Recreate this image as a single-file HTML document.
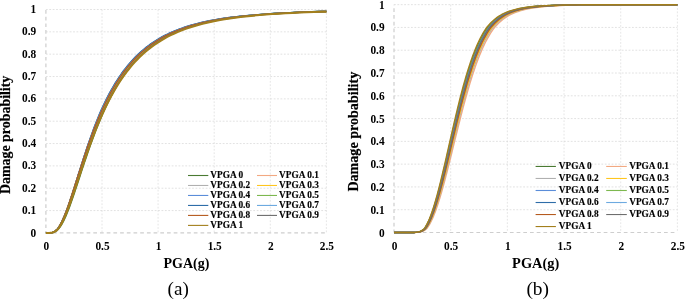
<!DOCTYPE html>
<html><head><meta charset="utf-8"><style>
html,body{margin:0;padding:0;background:#fff;}
body{width:685px;height:300px;overflow:hidden;}
svg{display:block;will-change:transform;font-family:"Liberation Serif",serif;}
.g{stroke:#d9d9d9;stroke-width:0.65;stroke-dasharray:1.8 1.6;}
.gh{stroke:#d2d2d2;}
.ax{stroke:#cecece;stroke-width:1.2;stroke-dasharray:3.7 3;}
.t{font-size:12px;font-weight:bold;fill:#000;}
.yl{font-size:13.6px;font-weight:bold;fill:#000;stroke:#000;stroke-width:0.2px;}
.xl{font-weight:bold;fill:#000;}
.cap{fill:#000;}
.lg{font-size:9.3px;font-weight:bold;fill:#000;stroke:#000;stroke-width:0.15px;}
</style></head><body>
<svg width="685" height="300" viewBox="0 0 685 300">
<rect width="685" height="300" fill="#fff"/>
<line x1="45.9" x2="326.4" y1="210.56" y2="210.56" class="g gh"/>
<line x1="45.9" x2="326.4" y1="188.22" y2="188.22" class="g gh"/>
<line x1="45.9" x2="326.4" y1="165.88" y2="165.88" class="g gh"/>
<line x1="45.9" x2="326.4" y1="143.54" y2="143.54" class="g gh"/>
<line x1="45.9" x2="326.4" y1="121.20" y2="121.20" class="g gh"/>
<line x1="45.9" x2="326.4" y1="98.86" y2="98.86" class="g gh"/>
<line x1="45.9" x2="326.4" y1="76.52" y2="76.52" class="g gh"/>
<line x1="45.9" x2="326.4" y1="54.18" y2="54.18" class="g gh"/>
<line x1="45.9" x2="326.4" y1="31.84" y2="31.84" class="g gh"/>
<line x1="45.9" x2="326.4" y1="9.50" y2="9.50" class="g gh"/>
<line x1="102.00" x2="102.00" y1="9.5" y2="232.9" class="g"/>
<line x1="158.10" x2="158.10" y1="9.5" y2="232.9" class="g"/>
<line x1="214.20" x2="214.20" y1="9.5" y2="232.9" class="g"/>
<line x1="270.30" x2="270.30" y1="9.5" y2="232.9" class="g"/>
<line x1="326.40" x2="326.40" y1="9.5" y2="232.9" class="g"/>
<line x1="45.9" x2="45.9" y1="9.5" y2="232.9" class="ax" stroke-dashoffset="6.2"/>
<line x1="45.9" x2="326.4" y1="232.9" y2="232.9" class="ax" stroke-dashoffset="6.2"/>
<polyline points="45.9,232.9 49.33,232.89 49.42,232.89 49.52,232.89 49.62,232.89 49.73,232.89 49.83,232.88 49.94,232.88 50.06,232.88 50.17,232.87 50.29,232.87 50.41,232.86 50.54,232.86 50.67,232.85 50.80,232.84 50.94,232.84 51.08,232.82 51.22,232.81 51.37,232.80 51.52,232.78 51.68,232.77 51.84,232.75 52.01,232.72 52.18,232.70 52.35,232.67 52.53,232.64 52.72,232.60 52.91,232.56 53.11,232.51 53.31,232.46 53.51,232.40 53.73,232.33 53.94,232.25 54.17,232.17 54.40,232.08 54.64,231.97 54.88,231.86 55.13,231.73 55.39,231.59 55.65,231.43 55.92,231.26 56.20,231.07 56.49,230.86 56.79,230.63 57.09,230.37 57.40,230.10 57.72,229.79 58.05,229.46 58.39,229.10 58.74,228.71 59.10,228.28 59.47,227.82 59.85,227.32 60.24,226.77 60.64,226.19 61.05,225.55 61.47,224.87 61.90,224.14 62.35,223.36 62.81,222.52 63.28,221.62 63.77,220.66 64.27,219.63 64.78,218.55 65.30,217.39 65.85,216.16 66.40,214.86 66.97,213.48 67.56,212.03 68.17,210.50 68.79,208.89 69.43,207.19 70.08,205.42 70.76,203.55 71.45,201.61 72.16,199.58 72.90,197.46 73.65,195.25 74.43,192.96 75.22,190.58 76.04,188.12 76.88,185.57 77.74,182.94 78.63,180.23 79.55,177.44 80.49,174.57 81.45,171.63 82.44,168.62 83.46,165.54 84.51,162.39 85.59,159.19 86.69,155.92 87.83,152.60 89.00,149.24 90.21,145.83 91.44,142.39 92.71,138.91 94.02,135.40 95.36,131.87 96.74,128.32 98.16,124.76 99.62,121.20 101.12,117.64 102.66,114.08 104.24,110.53 105.87,107.00 107.54,103.49 109.26,100.01 111.03,96.57 112.85,93.16 114.72,89.80 116.64,86.48 118.61,83.21 120.64,80.01 122.72,76.86 124.87,73.78 127.07,70.77 129.34,67.83 131.66,64.96 134.06,62.17 136.52,59.46 139.04,56.83 141.64,54.28 144.32,51.82 147.06,49.44 149.88,47.15 152.79,44.94 155.77,42.82 158.83,40.79 161.98,38.85 165.22,36.98 168.55,35.21 171.97,33.51 175.49,31.90 179.11,30.37 182.83,28.92 186.65,27.54 190.57,26.24 194.61,25.01 198.76,23.85 203.02,22.77 207.41,21.74 211.91,20.78 216.55,19.88 221.31,19.04 226.20,18.26 231.23,17.53 236.40,16.85 241.72,16.21 247.18,15.63 252.80,15.08 258.57,14.58 264.51,14.12 270.61,13.69 276.88,13.30 283.32,12.94 289.95,12.61 296.75,12.30 303.75,12.03 310.95,11.77 318.34,11.54 325.95,11.33 326.40,11.32" fill="none" stroke="#4A7A32" stroke-width="1.4" stroke-linejoin="round"/>
<polyline points="45.9,232.9 48.86,232.89 48.94,232.89 49.03,232.89 49.12,232.89 49.21,232.89 49.31,232.88 49.41,232.88 49.51,232.88 49.61,232.87 49.72,232.87 49.83,232.86 49.95,232.86 50.06,232.85 50.18,232.84 50.31,232.84 50.44,232.82 50.57,232.81 50.70,232.80 50.84,232.78 50.99,232.77 51.13,232.75 51.28,232.72 51.44,232.70 51.60,232.67 51.77,232.64 51.94,232.60 52.11,232.56 52.29,232.51 52.48,232.46 52.67,232.40 52.86,232.33 53.06,232.25 53.27,232.17 53.49,232.08 53.71,231.97 53.93,231.86 54.16,231.73 54.40,231.59 54.65,231.43 54.90,231.26 55.16,231.07 55.43,230.86 55.71,230.63 55.99,230.37 56.29,230.10 56.59,229.79 56.90,229.46 57.21,229.10 57.54,228.71 57.88,228.28 58.23,227.82 58.58,227.32 58.95,226.77 59.33,226.19 59.72,225.55 60.12,224.87 60.53,224.14 60.95,223.36 61.39,222.52 61.84,221.62 62.30,220.66 62.78,219.63 63.27,218.55 63.77,217.39 64.29,216.16 64.82,214.86 65.37,213.48 65.93,212.03 66.51,210.50 67.11,208.89 67.72,207.19 68.36,205.42 69.01,203.55 69.67,201.61 70.36,199.58 71.07,197.46 71.80,195.25 72.55,192.96 73.32,190.58 74.12,188.12 74.94,185.57 75.78,182.94 76.64,180.23 77.53,177.44 78.45,174.57 79.39,171.63 80.36,168.62 81.36,165.54 82.39,162.39 83.45,159.19 84.53,155.92 85.65,152.60 86.81,149.24 87.99,145.83 89.21,142.39 90.47,138.91 91.76,135.40 93.08,131.87 94.45,128.32 95.86,124.76 97.31,121.20 98.80,117.64 100.33,114.08 101.90,110.53 103.53,107.00 105.20,103.49 106.91,100.01 108.68,96.57 110.50,93.16 112.37,89.80 114.30,86.48 116.28,83.21 118.32,80.01 120.42,76.86 122.58,73.78 124.80,70.77 127.08,67.83 129.44,64.96 131.86,62.17 134.35,59.46 136.91,56.83 139.55,54.28 142.26,51.82 145.05,49.44 147.92,47.15 150.88,44.94 153.92,42.82 157.05,40.79 160.27,38.85 163.58,36.98 166.99,35.21 170.50,33.51 174.11,31.90 177.83,30.37 181.65,28.92 185.58,27.54 189.63,26.24 193.79,25.01 198.08,23.85 202.48,22.77 207.02,21.74 211.69,20.78 216.49,19.88 221.43,19.04 226.52,18.26 231.75,17.53 237.14,16.85 242.68,16.21 248.38,15.63 254.24,15.08 260.28,14.58 266.49,14.12 272.88,13.69 279.46,13.30 286.23,12.94 293.19,12.61 300.35,12.30 307.72,12.03 315.31,11.77 323.12,11.54 326.40,11.45" fill="none" stroke="#F2A982" stroke-width="1.4" stroke-linejoin="round"/>
<polyline points="45.9,232.9 48.87,232.89 48.96,232.89 49.05,232.89 49.14,232.89 49.23,232.89 49.33,232.88 49.43,232.88 49.53,232.88 49.64,232.87 49.75,232.87 49.86,232.86 49.97,232.86 50.09,232.85 50.21,232.84 50.34,232.84 50.46,232.82 50.60,232.81 50.73,232.80 50.87,232.78 51.02,232.77 51.16,232.75 51.32,232.72 51.47,232.70 51.64,232.67 51.80,232.64 51.97,232.60 52.15,232.56 52.33,232.51 52.52,232.46 52.71,232.40 52.90,232.33 53.11,232.25 53.32,232.17 53.53,232.08 53.75,231.97 53.98,231.86 54.21,231.73 54.45,231.59 54.70,231.43 54.96,231.26 55.22,231.07 55.49,230.86 55.77,230.63 56.05,230.37 56.35,230.10 56.65,229.79 56.96,229.46 57.28,229.10 57.61,228.71 57.95,228.28 58.30,227.82 58.66,227.32 59.03,226.77 59.41,226.19 59.80,225.55 60.20,224.87 60.62,224.14 61.05,223.36 61.48,222.52 61.94,221.62 62.40,220.66 62.88,219.63 63.37,218.55 63.88,217.39 64.40,216.16 64.93,214.86 65.48,213.48 66.05,212.03 66.64,210.50 67.24,208.89 67.85,207.19 68.49,205.42 69.14,203.55 69.82,201.61 70.51,199.58 71.22,197.46 71.96,195.25 72.71,192.96 73.49,190.58 74.29,188.12 75.11,185.57 75.96,182.94 76.83,180.23 77.72,177.44 78.65,174.57 79.60,171.63 80.57,168.62 81.58,165.54 82.61,162.39 83.67,159.19 84.77,155.92 85.89,152.60 87.05,149.24 88.24,145.83 89.47,142.39 90.73,138.91 92.03,135.40 93.37,131.87 94.74,128.32 96.16,124.76 97.62,121.20 99.11,117.64 100.66,114.08 102.24,110.53 103.87,107.00 105.55,103.49 107.28,100.01 109.06,96.57 110.89,93.16 112.77,89.80 114.71,86.48 116.70,83.21 118.76,80.01 120.87,76.86 123.04,73.78 125.27,70.77 127.57,67.83 129.94,64.96 132.37,62.17 134.88,59.46 137.46,56.83 140.11,54.28 142.84,51.82 145.65,49.44 148.54,47.15 151.51,44.94 154.57,42.82 157.72,40.79 160.96,38.85 164.29,36.98 167.72,35.21 171.25,33.51 174.88,31.90 178.62,30.37 182.46,28.92 186.42,27.54 190.49,26.24 194.68,25.01 198.99,23.85 203.43,22.77 207.99,21.74 212.69,20.78 217.52,19.88 222.49,19.04 227.61,18.26 232.87,17.53 238.29,16.85 243.86,16.21 249.60,15.63 255.50,15.08 261.57,14.58 267.82,14.12 274.25,13.69 280.86,13.30 287.67,12.94 294.68,12.61 301.88,12.30 309.30,12.03 316.93,11.77 324.78,11.54 326.40,11.50" fill="none" stroke="#B0B0B0" stroke-width="1.4" stroke-linejoin="round"/>
<polyline points="45.9,232.9 48.95,232.89 49.03,232.89 49.12,232.89 49.22,232.89 49.31,232.89 49.41,232.88 49.51,232.88 49.62,232.88 49.72,232.87 49.83,232.87 49.95,232.86 50.06,232.86 50.18,232.85 50.31,232.84 50.43,232.84 50.56,232.82 50.70,232.81 50.84,232.80 50.98,232.78 51.12,232.77 51.27,232.75 51.43,232.72 51.59,232.70 51.75,232.67 51.92,232.64 52.10,232.60 52.27,232.56 52.46,232.51 52.65,232.46 52.84,232.40 53.04,232.33 53.25,232.25 53.46,232.17 53.68,232.08 53.90,231.97 54.13,231.86 54.37,231.73 54.61,231.59 54.86,231.43 55.12,231.26 55.39,231.07 55.66,230.86 55.94,230.63 56.23,230.37 56.53,230.10 56.83,229.79 57.15,229.46 57.47,229.10 57.80,228.71 58.15,228.28 58.50,227.82 58.86,227.32 59.24,226.77 59.62,226.19 60.02,225.55 60.42,224.87 60.84,224.14 61.27,223.36 61.71,222.52 62.17,221.62 62.64,220.66 63.12,219.63 63.62,218.55 64.13,217.39 64.65,216.16 65.19,214.86 65.75,213.48 66.32,212.03 66.91,210.50 67.51,208.89 68.14,207.19 68.78,205.42 69.44,203.55 70.11,201.61 70.81,199.58 71.53,197.46 72.27,195.25 73.03,192.96 73.81,190.58 74.61,188.12 75.44,185.57 76.29,182.94 77.17,180.23 78.07,177.44 78.99,174.57 79.95,171.63 80.93,168.62 81.94,165.54 82.98,162.39 84.04,159.19 85.14,155.92 86.27,152.60 87.44,149.24 88.63,145.83 89.86,142.39 91.13,138.91 92.43,135.40 93.77,131.87 95.15,128.32 96.57,124.76 98.03,121.20 99.53,117.64 101.08,114.08 102.67,110.53 104.30,107.00 105.98,103.49 107.72,100.01 109.50,96.57 111.33,93.16 113.21,89.80 115.15,86.48 117.15,83.21 119.20,80.01 121.31,76.86 123.48,73.78 125.72,70.77 128.02,67.83 130.38,64.96 132.82,62.17 135.32,59.46 137.90,56.83 140.55,54.28 143.27,51.82 146.08,49.44 148.96,47.15 151.93,44.94 154.99,42.82 158.13,40.79 161.36,38.85 164.69,36.98 168.11,35.21 171.63,33.51 175.25,31.90 178.98,30.37 182.81,28.92 186.76,27.54 190.82,26.24 194.99,25.01 199.29,23.85 203.70,22.77 208.25,21.74 212.93,20.78 217.74,19.88 222.69,19.04 227.78,18.26 233.02,17.53 238.41,16.85 243.96,16.21 249.66,15.63 255.53,15.08 261.57,14.58 267.78,14.12 274.18,13.69 280.75,13.30 287.52,12.94 294.48,12.61 301.64,12.30 309.01,12.03 316.58,11.77 324.38,11.54 326.40,11.49" fill="none" stroke="#FFC61E" stroke-width="1.4" stroke-linejoin="round"/>
<polyline points="45.9,232.9 48.87,232.89 48.95,232.89 49.04,232.89 49.13,232.89 49.23,232.89 49.32,232.88 49.42,232.88 49.52,232.88 49.63,232.87 49.74,232.87 49.85,232.86 49.96,232.86 50.08,232.85 50.20,232.84 50.33,232.84 50.45,232.82 50.59,232.81 50.72,232.80 50.86,232.78 51.01,232.77 51.15,232.75 51.31,232.72 51.46,232.70 51.62,232.67 51.79,232.64 51.96,232.60 52.14,232.56 52.32,232.51 52.50,232.46 52.69,232.40 52.89,232.33 53.09,232.25 53.30,232.17 53.52,232.08 53.74,231.97 53.96,231.86 54.20,231.73 54.44,231.59 54.68,231.43 54.94,231.26 55.20,231.07 55.47,230.86 55.75,230.63 56.03,230.37 56.33,230.10 56.63,229.79 56.94,229.46 57.26,229.10 57.59,228.71 57.93,228.28 58.28,227.82 58.63,227.32 59.00,226.77 59.38,226.19 59.77,225.55 60.18,224.87 60.59,224.14 61.01,223.36 61.45,222.52 61.90,221.62 62.37,220.66 62.84,219.63 63.33,218.55 63.84,217.39 64.36,216.16 64.89,214.86 65.44,213.48 66.01,212.03 66.59,210.50 67.19,208.89 67.81,207.19 68.45,205.42 69.10,203.55 69.77,201.61 70.46,199.58 71.17,197.46 71.91,195.25 72.66,192.96 73.42,190.58 74.20,188.12 75.00,185.57 75.82,182.94 76.66,180.23 77.53,177.44 78.42,174.57 79.33,171.63 80.28,168.62 81.25,165.54 82.25,162.39 83.27,159.19 84.33,155.92 85.41,152.60 86.53,149.24 87.68,145.83 88.86,142.39 90.07,138.91 91.32,135.40 92.60,131.87 93.93,128.32 95.28,124.76 96.68,121.20 98.12,117.64 99.60,114.08 101.14,110.53 102.74,107.00 104.40,103.49 106.10,100.01 107.84,96.57 109.64,93.16 111.50,89.80 113.40,86.48 115.36,83.21 117.38,80.01 119.46,76.86 121.60,73.78 123.79,70.77 126.06,67.83 128.39,64.96 130.78,62.17 133.25,59.46 135.79,56.83 138.40,54.28 141.09,51.82 143.85,49.44 146.70,47.15 149.63,44.94 152.64,42.82 155.74,40.79 158.93,38.85 162.22,36.98 165.60,35.21 169.07,33.51 172.65,31.90 176.33,30.37 180.12,28.92 184.02,27.54 188.04,26.24 192.17,25.01 196.42,23.85 200.79,22.77 205.29,21.74 209.92,20.78 214.69,19.88 219.59,19.04 224.64,18.26 229.83,17.53 235.17,16.85 240.67,16.21 246.33,15.63 252.16,15.08 258.15,14.58 264.31,14.12 270.66,13.69 277.19,13.30 283.91,12.94 290.83,12.61 297.94,12.30 305.26,12.03 312.80,11.77 320.55,11.54 326.40,11.38" fill="none" stroke="#5B8DD9" stroke-width="1.4" stroke-linejoin="round"/>
<polyline points="45.9,232.9 48.85,232.89 48.94,232.89 49.02,232.89 49.11,232.89 49.21,232.89 49.30,232.88 49.40,232.88 49.50,232.88 49.61,232.87 49.71,232.87 49.82,232.86 49.94,232.86 50.06,232.85 50.18,232.84 50.30,232.84 50.43,232.82 50.56,232.81 50.69,232.80 50.83,232.78 50.98,232.77 51.12,232.75 51.27,232.72 51.43,232.70 51.59,232.67 51.75,232.64 51.92,232.60 52.10,232.56 52.28,232.51 52.46,232.46 52.65,232.40 52.85,232.33 53.05,232.25 53.26,232.17 53.47,232.08 53.69,231.97 53.92,231.86 54.15,231.73 54.39,231.59 54.63,231.43 54.89,231.26 55.15,231.07 55.41,230.86 55.69,230.63 55.97,230.37 56.26,230.10 56.56,229.79 56.87,229.46 57.19,229.10 57.52,228.71 57.86,228.28 58.20,227.82 58.56,227.32 58.93,226.77 59.30,226.19 59.69,225.55 60.09,224.87 60.50,224.14 60.92,223.36 61.36,222.52 61.81,221.62 62.27,220.66 62.74,219.63 63.23,218.55 63.73,217.39 64.25,216.16 64.78,214.86 65.33,213.48 65.89,212.03 66.47,210.50 67.07,208.89 67.68,207.19 68.31,205.42 68.96,203.55 69.63,201.61 70.31,199.58 71.02,197.46 71.75,195.25 72.50,192.96 73.27,190.58 74.06,188.12 74.88,185.57 75.72,182.94 76.58,180.23 77.47,177.44 78.39,174.57 79.33,171.63 80.30,168.62 81.29,165.54 82.32,162.39 83.37,159.19 84.46,155.92 85.57,152.60 86.72,149.24 87.91,145.83 89.12,142.39 90.38,138.91 91.66,135.40 92.99,131.87 94.35,128.32 95.76,124.76 97.20,121.20 98.69,117.64 100.22,114.08 101.79,110.53 103.41,107.00 105.08,103.49 106.79,100.01 108.56,96.57 110.37,93.16 112.24,89.80 114.16,86.48 116.14,83.21 118.17,80.01 120.27,76.86 122.42,73.78 124.64,70.77 126.92,67.83 129.27,64.96 131.68,62.17 134.17,59.46 136.73,56.83 139.36,54.28 142.07,51.82 144.85,49.44 147.72,47.15 150.67,44.94 153.70,42.82 156.83,40.79 160.04,38.85 163.35,36.98 166.75,35.21 170.25,33.51 173.85,31.90 177.56,30.37 181.38,28.92 185.30,27.54 189.34,26.24 193.50,25.01 197.77,23.85 202.17,22.77 206.70,21.74 211.36,20.78 216.15,19.88 221.08,19.04 226.16,18.26 231.38,17.53 236.76,16.85 242.28,16.21 247.97,15.63 253.83,15.08 259.85,14.58 266.05,14.12 272.43,13.69 278.99,13.30 285.75,12.94 292.69,12.61 299.84,12.30 307.20,12.03 314.77,11.77 322.56,11.54 326.40,11.44" fill="none" stroke="#7DB84F" stroke-width="1.4" stroke-linejoin="round"/>
<polyline points="45.9,232.9 48.87,232.89 48.95,232.89 49.04,232.89 49.13,232.89 49.23,232.89 49.32,232.88 49.42,232.88 49.52,232.88 49.63,232.87 49.74,232.87 49.85,232.86 49.96,232.86 50.08,232.85 50.20,232.84 50.33,232.84 50.45,232.82 50.59,232.81 50.72,232.80 50.86,232.78 51.01,232.77 51.15,232.75 51.31,232.72 51.46,232.70 51.62,232.67 51.79,232.64 51.96,232.60 52.14,232.56 52.32,232.51 52.50,232.46 52.69,232.40 52.89,232.33 53.09,232.25 53.30,232.17 53.52,232.08 53.74,231.97 53.96,231.86 54.20,231.73 54.44,231.59 54.68,231.43 54.94,231.26 55.20,231.07 55.47,230.86 55.75,230.63 56.03,230.37 56.33,230.10 56.63,229.79 56.94,229.46 57.26,229.10 57.59,228.71 57.93,228.28 58.28,227.82 58.63,227.32 59.00,226.77 59.38,226.19 59.77,225.55 60.18,224.87 60.59,224.14 61.01,223.36 61.45,222.52 61.90,221.62 62.37,220.66 62.84,219.63 63.33,218.55 63.84,217.39 64.36,216.16 64.89,214.86 65.44,213.48 66.01,212.03 66.59,210.50 67.19,208.89 67.81,207.19 68.45,205.42 69.10,203.55 69.77,201.61 70.46,199.58 71.17,197.46 71.91,195.25 72.66,192.96 73.42,190.58 74.19,188.12 74.99,185.57 75.80,182.94 76.64,180.23 77.50,177.44 78.39,174.57 79.30,171.63 80.24,168.62 81.21,165.54 82.20,162.39 83.22,159.19 84.27,155.92 85.35,152.60 86.46,149.24 87.60,145.83 88.77,142.39 89.98,138.91 91.22,135.40 92.50,131.87 93.81,128.32 95.16,124.76 96.55,121.20 97.97,117.64 99.44,114.08 100.97,110.53 102.57,107.00 104.22,103.49 105.91,100.01 107.66,96.57 109.45,93.16 111.30,89.80 113.20,86.48 115.15,83.21 117.17,80.01 119.24,76.86 121.37,73.78 123.56,70.77 125.82,67.83 128.14,64.96 130.53,62.17 132.99,59.46 135.52,56.83 138.12,54.28 140.80,51.82 143.56,49.44 146.40,47.15 149.32,44.94 152.32,42.82 155.41,40.79 158.59,38.85 161.87,36.98 165.24,35.21 168.70,33.51 172.27,31.90 175.94,30.37 179.72,28.92 183.61,27.54 187.61,26.24 191.73,25.01 195.97,23.85 200.33,22.77 204.81,21.74 209.43,20.78 214.18,19.88 219.07,19.04 224.10,18.26 229.28,17.53 234.61,16.85 240.09,16.21 245.73,15.63 251.54,15.08 257.51,14.58 263.66,14.12 269.99,13.69 276.50,13.30 283.20,12.94 290.09,12.61 297.19,12.30 304.49,12.03 312.00,11.77 319.73,11.54 326.40,11.36" fill="none" stroke="#2E6DA8" stroke-width="1.4" stroke-linejoin="round"/>
<polyline points="45.9,232.9 48.87,232.89 48.95,232.89 49.04,232.89 49.13,232.89 49.23,232.89 49.32,232.88 49.42,232.88 49.52,232.88 49.63,232.87 49.74,232.87 49.85,232.86 49.96,232.86 50.08,232.85 50.20,232.84 50.33,232.84 50.45,232.82 50.59,232.81 50.72,232.80 50.86,232.78 51.01,232.77 51.15,232.75 51.31,232.72 51.46,232.70 51.62,232.67 51.79,232.64 51.96,232.60 52.14,232.56 52.32,232.51 52.50,232.46 52.69,232.40 52.89,232.33 53.09,232.25 53.30,232.17 53.52,232.08 53.74,231.97 53.96,231.86 54.20,231.73 54.44,231.59 54.68,231.43 54.94,231.26 55.20,231.07 55.47,230.86 55.75,230.63 56.03,230.37 56.33,230.10 56.63,229.79 56.94,229.46 57.26,229.10 57.59,228.71 57.93,228.28 58.28,227.82 58.63,227.32 59.00,226.77 59.38,226.19 59.77,225.55 60.18,224.87 60.59,224.14 61.01,223.36 61.45,222.52 61.90,221.62 62.37,220.66 62.84,219.63 63.33,218.55 63.84,217.39 64.36,216.16 64.89,214.86 65.44,213.48 66.01,212.03 66.59,210.50 67.19,208.89 67.81,207.19 68.45,205.42 69.10,203.55 69.77,201.61 70.46,199.58 71.17,197.46 71.91,195.25 72.66,192.96 73.43,190.58 74.21,188.12 75.02,185.57 75.85,182.94 76.70,180.23 77.58,177.44 78.49,174.57 79.42,171.63 80.37,168.62 81.36,165.54 82.37,162.39 83.41,159.19 84.48,155.92 85.58,152.60 86.72,149.24 87.88,145.83 89.08,142.39 90.32,138.91 91.59,135.40 92.90,131.87 94.24,128.32 95.63,124.76 97.05,121.20 98.51,117.64 100.02,114.08 101.58,110.53 103.20,107.00 104.87,103.49 106.58,100.01 108.34,96.57 110.16,93.16 112.02,89.80 113.94,86.48 115.92,83.21 117.96,80.01 120.05,76.86 122.20,73.78 124.42,70.77 126.70,67.83 129.05,64.96 131.46,62.17 133.95,59.46 136.51,56.83 139.14,54.28 141.85,51.82 144.64,49.44 147.51,47.15 150.46,44.94 153.50,42.82 156.62,40.79 159.84,38.85 163.15,36.98 166.56,35.21 170.06,33.51 173.67,31.90 177.38,30.37 181.20,28.92 185.13,27.54 189.18,26.24 193.34,25.01 197.63,23.85 202.03,22.77 206.57,21.74 211.24,20.78 216.04,19.88 220.99,19.04 226.07,18.26 231.31,17.53 236.69,16.85 242.24,16.21 247.94,15.63 253.81,15.08 259.85,14.58 266.07,14.12 272.47,13.69 279.05,13.30 285.82,12.94 292.79,12.61 299.97,12.30 307.35,12.03 314.94,11.77 322.76,11.54 326.40,11.44" fill="none" stroke="#6DAAE0" stroke-width="1.4" stroke-linejoin="round"/>
<polyline points="45.9,232.9 48.85,232.89 48.94,232.89 49.02,232.89 49.11,232.89 49.21,232.89 49.30,232.88 49.40,232.88 49.50,232.88 49.61,232.87 49.71,232.87 49.82,232.86 49.94,232.86 50.06,232.85 50.18,232.84 50.30,232.84 50.43,232.82 50.56,232.81 50.69,232.80 50.83,232.78 50.98,232.77 51.12,232.75 51.27,232.72 51.43,232.70 51.59,232.67 51.75,232.64 51.92,232.60 52.10,232.56 52.28,232.51 52.46,232.46 52.65,232.40 52.85,232.33 53.05,232.25 53.26,232.17 53.47,232.08 53.69,231.97 53.92,231.86 54.15,231.73 54.39,231.59 54.63,231.43 54.89,231.26 55.15,231.07 55.41,230.86 55.69,230.63 55.97,230.37 56.26,230.10 56.56,229.79 56.87,229.46 57.19,229.10 57.52,228.71 57.86,228.28 58.20,227.82 58.56,227.32 58.93,226.77 59.30,226.19 59.69,225.55 60.09,224.87 60.50,224.14 60.92,223.36 61.36,222.52 61.81,221.62 62.27,220.66 62.74,219.63 63.23,218.55 63.73,217.39 64.25,216.16 64.78,214.86 65.33,213.48 65.89,212.03 66.47,210.50 67.07,208.89 67.68,207.19 68.31,205.42 68.96,203.55 69.63,201.61 70.31,199.58 71.02,197.46 71.75,195.25 72.50,192.96 73.27,190.58 74.06,188.12 74.88,185.57 75.72,182.94 76.58,180.23 77.47,177.44 78.39,174.57 79.33,171.63 80.30,168.62 81.29,165.54 82.32,162.39 83.37,159.19 84.46,155.92 85.57,152.60 86.72,149.24 87.91,145.83 89.12,142.39 90.38,138.91 91.66,135.40 92.99,131.87 94.35,128.32 95.76,124.76 97.20,121.20 98.69,117.64 100.22,114.08 101.79,110.53 103.41,107.00 105.08,103.49 106.79,100.01 108.56,96.57 110.37,93.16 112.24,89.80 114.16,86.48 116.14,83.21 118.17,80.01 120.27,76.86 122.42,73.78 124.64,70.77 126.92,67.83 129.27,64.96 131.68,62.17 134.17,59.46 136.73,56.83 139.36,54.28 142.07,51.82 144.85,49.44 147.72,47.15 150.67,44.94 153.70,42.82 156.83,40.79 160.04,38.85 163.35,36.98 166.75,35.21 170.25,33.51 173.85,31.90 177.56,30.37 181.38,28.92 185.30,27.54 189.34,26.24 193.50,25.01 197.77,23.85 202.17,22.77 206.70,21.74 211.36,20.78 216.15,19.88 221.08,19.04 226.16,18.26 231.38,17.53 236.76,16.85 242.28,16.21 247.97,15.63 253.83,15.08 259.85,14.58 266.05,14.12 272.43,13.69 278.99,13.30 285.75,12.94 292.69,12.61 299.84,12.30 307.20,12.03 314.77,11.77 322.56,11.54 326.40,11.44" fill="none" stroke="#B55A1E" stroke-width="1.4" stroke-linejoin="round"/>
<polyline points="45.9,232.9 49.01,232.89 49.10,232.89 49.19,232.89 49.29,232.89 49.39,232.89 49.49,232.88 49.59,232.88 49.70,232.88 49.81,232.87 49.92,232.87 50.03,232.86 50.15,232.86 50.27,232.85 50.40,232.84 50.53,232.84 50.66,232.82 50.80,232.81 50.94,232.80 51.08,232.78 51.23,232.77 51.39,232.75 51.54,232.72 51.71,232.70 51.87,232.67 52.04,232.64 52.22,232.60 52.40,232.56 52.59,232.51 52.78,232.46 52.98,232.40 53.18,232.33 53.39,232.25 53.61,232.17 53.83,232.08 54.06,231.97 54.29,231.86 54.53,231.73 54.78,231.59 55.03,231.43 55.30,231.26 55.57,231.07 55.84,230.86 56.13,230.63 56.42,230.37 56.72,230.10 57.04,229.79 57.36,229.46 57.68,229.10 58.02,228.71 58.37,228.28 58.73,227.82 59.10,227.32 59.48,226.77 59.87,226.19 60.27,225.55 60.68,224.87 61.11,224.14 61.54,223.36 61.99,222.52 62.45,221.62 62.93,220.66 63.42,219.63 63.92,218.55 64.44,217.39 64.97,216.16 65.52,214.86 66.08,213.48 66.66,212.03 67.26,210.50 67.87,208.89 68.50,207.19 69.15,205.42 69.82,203.55 70.51,201.61 71.22,199.58 71.94,197.46 72.69,195.25 73.46,192.96 74.25,190.58 75.07,188.12 75.90,185.57 76.77,182.94 77.65,180.23 78.57,177.44 79.50,174.57 80.47,171.63 81.46,168.62 82.48,165.54 83.53,162.39 84.62,159.19 85.73,155.92 86.87,152.60 88.05,149.24 89.26,145.83 90.50,142.39 91.79,138.91 93.10,135.40 94.46,131.87 95.85,128.32 97.29,124.76 98.77,121.20 100.28,117.64 101.85,114.08 103.45,110.53 105.11,107.00 106.81,103.49 108.56,100.01 110.36,96.57 112.21,93.16 114.11,89.80 116.07,86.48 118.09,83.21 120.16,80.01 122.29,76.86 124.49,73.78 126.75,70.77 129.07,67.83 131.46,64.96 133.92,62.17 136.44,59.46 139.04,56.83 141.72,54.28 144.47,51.82 147.30,49.44 150.22,47.15 153.21,44.94 156.30,42.82 159.47,40.79 162.73,38.85 166.09,36.98 169.54,35.21 173.09,33.51 176.74,31.90 180.50,30.37 184.37,28.92 188.34,27.54 192.44,26.24 196.65,25.01 200.98,23.85 205.43,22.77 210.01,21.74 214.73,20.78 219.58,19.88 224.57,19.04 229.70,18.26 234.98,17.53 240.41,16.85 246.00,16.21 251.74,15.63 257.66,15.08 263.74,14.58 270.00,14.12 276.43,13.69 283.06,13.30 289.87,12.94 296.88,12.61 304.08,12.30 311.50,12.03 319.13,11.77 326.40,11.56" fill="none" stroke="#6E6E6E" stroke-width="1.4" stroke-linejoin="round"/>
<polyline points="45.9,232.9 49.04,232.89 49.14,232.89 49.23,232.89 49.32,232.89 49.42,232.89 49.52,232.88 49.63,232.88 49.73,232.88 49.84,232.87 49.96,232.87 50.07,232.86 50.19,232.86 50.32,232.85 50.44,232.84 50.58,232.84 50.71,232.82 50.85,232.81 50.99,232.80 51.14,232.78 51.29,232.77 51.44,232.75 51.60,232.72 51.76,232.70 51.93,232.67 52.11,232.64 52.28,232.60 52.47,232.56 52.66,232.51 52.85,232.46 53.05,232.40 53.25,232.33 53.47,232.25 53.68,232.17 53.91,232.08 54.14,231.97 54.37,231.86 54.62,231.73 54.87,231.59 55.12,231.43 55.39,231.26 55.66,231.07 55.94,230.86 56.23,230.63 56.53,230.37 56.83,230.10 57.15,229.79 57.47,229.46 57.80,229.10 58.14,228.71 58.50,228.28 58.86,227.82 59.23,227.32 59.61,226.77 60.01,226.19 60.41,225.55 60.83,224.87 61.26,224.14 61.70,223.36 62.15,222.52 62.62,221.62 63.10,220.66 63.59,219.63 64.10,218.55 64.63,217.39 65.16,216.16 65.72,214.86 66.29,213.48 66.87,212.03 67.47,210.50 68.09,208.89 68.73,207.19 69.39,205.42 70.06,203.55 70.76,201.61 71.47,199.58 72.20,197.46 72.96,195.25 73.74,192.96 74.54,190.58 75.36,188.12 76.21,185.57 77.08,182.94 77.97,180.23 78.89,177.44 79.84,174.57 80.82,171.63 81.82,168.62 82.85,165.54 83.91,162.39 85.00,159.19 86.13,155.92 87.28,152.60 88.47,149.24 89.69,145.83 90.95,142.39 92.25,138.91 93.58,135.40 94.95,131.87 96.36,128.32 97.81,124.76 99.30,121.20 100.83,117.64 102.41,114.08 104.03,110.53 105.70,107.00 107.42,103.49 109.19,100.01 111.00,96.57 112.87,93.16 114.80,89.80 116.78,86.48 118.81,83.21 120.91,80.01 123.06,76.86 125.28,73.78 127.56,70.77 129.90,67.83 132.32,64.96 134.80,62.17 137.35,59.46 139.98,56.83 142.68,54.28 145.46,51.82 148.32,49.44 151.27,47.15 154.29,44.94 157.41,42.82 160.61,40.79 163.90,38.85 167.29,36.98 170.78,35.21 174.37,33.51 178.06,31.90 181.85,30.37 185.76,28.92 189.78,27.54 193.91,26.24 198.16,25.01 202.53,23.85 207.03,22.77 211.66,21.74 216.42,20.78 221.32,19.88 226.36,19.04 231.54,18.26 236.88,17.53 242.36,16.85 248.01,16.21 253.81,15.63 259.78,15.08 265.93,14.58 272.25,14.12 278.75,13.69 285.44,13.30 292.32,12.94 299.40,12.61 306.68,12.30 314.17,12.03 321.88,11.77 326.40,11.64" fill="none" stroke="#A37F1C" stroke-width="2.0" stroke-linejoin="round"/>
<text transform="translate(36.20,236.50) scale(0.945,1)" class="t" text-anchor="end">0</text>
<text transform="translate(36.20,214.16) scale(0.945,1)" class="t" text-anchor="end">0.1</text>
<text transform="translate(36.20,191.82) scale(0.945,1)" class="t" text-anchor="end">0.2</text>
<text transform="translate(36.20,169.48) scale(0.945,1)" class="t" text-anchor="end">0.3</text>
<text transform="translate(36.20,147.14) scale(0.945,1)" class="t" text-anchor="end">0.4</text>
<text transform="translate(36.20,124.80) scale(0.945,1)" class="t" text-anchor="end">0.5</text>
<text transform="translate(36.20,102.46) scale(0.945,1)" class="t" text-anchor="end">0.6</text>
<text transform="translate(36.20,80.12) scale(0.945,1)" class="t" text-anchor="end">0.7</text>
<text transform="translate(36.20,57.78) scale(0.945,1)" class="t" text-anchor="end">0.8</text>
<text transform="translate(36.20,35.44) scale(0.945,1)" class="t" text-anchor="end">0.9</text>
<text transform="translate(36.20,13.10) scale(0.945,1)" class="t" text-anchor="end">1</text>
<text transform="translate(46.40,249.6) scale(0.945,1)" class="t" text-anchor="middle">0</text>
<text transform="translate(102.50,249.6) scale(0.945,1)" class="t" text-anchor="middle">0.5</text>
<text transform="translate(158.60,249.6) scale(0.945,1)" class="t" text-anchor="middle">1</text>
<text transform="translate(214.70,249.6) scale(0.945,1)" class="t" text-anchor="middle">1.5</text>
<text transform="translate(270.80,249.6) scale(0.945,1)" class="t" text-anchor="middle">2</text>
<text transform="translate(326.90,249.6) scale(0.945,1)" class="t" text-anchor="middle">2.5</text>
<text transform="translate(10.3,194.0) rotate(-90)" class="yl" textLength="118.3" lengthAdjust="spacingAndGlyphs">Damage probability</text>
<text x="186.4" y="268.2" class="xl" style="font-size:14px" text-anchor="middle">PGA(g)</text>
<text x="178.2" y="295.1" class="cap" style="font-size:19.1px" text-anchor="middle">(a)</text>
<line x1="188.0" x2="208.3" y1="175.50" y2="175.50" stroke="#4A7A32" stroke-width="1.1"/>
<text x="210.3" y="178.40" class="lg">VPGA 0</text>
<line x1="257" x2="277.0" y1="175.50" y2="175.50" stroke="#F2A982" stroke-width="1.1"/>
<text x="279.1" y="178.40" class="lg">VPGA 0.1</text>
<line x1="188.0" x2="208.3" y1="185.48" y2="185.48" stroke="#B0B0B0" stroke-width="1.1"/>
<text x="210.3" y="188.38" class="lg">VPGA 0.2</text>
<line x1="257" x2="277.0" y1="185.48" y2="185.48" stroke="#FFC61E" stroke-width="1.1"/>
<text x="279.1" y="188.38" class="lg">VPGA 0.3</text>
<line x1="188.0" x2="208.3" y1="195.46" y2="195.46" stroke="#5B8DD9" stroke-width="1.1"/>
<text x="210.3" y="198.36" class="lg">VPGA 0.4</text>
<line x1="257" x2="277.0" y1="195.46" y2="195.46" stroke="#7DB84F" stroke-width="1.1"/>
<text x="279.1" y="198.36" class="lg">VPGA 0.5</text>
<line x1="188.0" x2="208.3" y1="205.44" y2="205.44" stroke="#2E6DA8" stroke-width="1.1"/>
<text x="210.3" y="208.34" class="lg">VPGA 0.6</text>
<line x1="257" x2="277.0" y1="205.44" y2="205.44" stroke="#6DAAE0" stroke-width="1.1"/>
<text x="279.1" y="208.34" class="lg">VPGA 0.7</text>
<line x1="188.0" x2="208.3" y1="215.42" y2="215.42" stroke="#B55A1E" stroke-width="1.1"/>
<text x="210.3" y="218.32" class="lg">VPGA 0.8</text>
<line x1="257" x2="277.0" y1="215.42" y2="215.42" stroke="#6E6E6E" stroke-width="1.1"/>
<text x="279.1" y="218.32" class="lg">VPGA 0.9</text>
<line x1="188.0" x2="208.3" y1="225.40" y2="225.40" stroke="#A37F1C" stroke-width="1.1"/>
<text x="210.3" y="228.30" class="lg">VPGA 1</text>
<line x1="394.0" x2="677.4" y1="209.72" y2="209.72" class="g gh"/>
<line x1="394.0" x2="677.4" y1="186.93" y2="186.93" class="g gh"/>
<line x1="394.0" x2="677.4" y1="164.15" y2="164.15" class="g gh"/>
<line x1="394.0" x2="677.4" y1="141.36" y2="141.36" class="g gh"/>
<line x1="394.0" x2="677.4" y1="118.58" y2="118.58" class="g gh"/>
<line x1="394.0" x2="677.4" y1="95.79" y2="95.79" class="g gh"/>
<line x1="394.0" x2="677.4" y1="73.00" y2="73.00" class="g gh"/>
<line x1="394.0" x2="677.4" y1="50.22" y2="50.22" class="g gh"/>
<line x1="394.0" x2="677.4" y1="27.44" y2="27.44" class="g gh"/>
<line x1="394.0" x2="677.4" y1="4.65" y2="4.65" class="g gh"/>
<line x1="450.68" x2="450.68" y1="4.65" y2="232.5" class="g"/>
<line x1="507.36" x2="507.36" y1="4.65" y2="232.5" class="g"/>
<line x1="564.04" x2="564.04" y1="4.65" y2="232.5" class="g"/>
<line x1="620.72" x2="620.72" y1="4.65" y2="232.5" class="g"/>
<line x1="677.40" x2="677.40" y1="4.65" y2="232.5" class="g"/>
<line x1="394.0" x2="394.0" y1="4.65" y2="232.5" class="ax" stroke-dashoffset="3.0"/>
<line x1="394.0" x2="677.4" y1="232.5" y2="232.5" class="ax" stroke-dashoffset="4.7"/>
<polyline points="394.0,232.5 410.96,232.49 411.17,232.49 411.38,232.49 411.60,232.49 411.82,232.49 412.04,232.48 412.27,232.48 412.49,232.48 412.72,232.47 412.96,232.47 413.19,232.46 413.43,232.46 413.68,232.45 413.92,232.44 414.17,232.43 414.42,232.42 414.68,232.41 414.94,232.40 415.20,232.38 415.46,232.36 415.73,232.34 416.00,232.32 416.27,232.29 416.55,232.26 416.83,232.23 417.12,232.19 417.41,232.15 417.70,232.10 417.99,232.05 418.29,231.99 418.60,231.92 418.90,231.84 419.21,231.76 419.53,231.66 419.85,231.56 420.17,231.44 420.50,231.31 420.83,231.16 421.16,231.00 421.50,230.83 421.84,230.63 422.19,230.42 422.54,230.18 422.90,229.92 423.26,229.64 423.63,229.33 424.00,228.99 424.37,228.63 424.71,228.22 425.02,227.79 425.35,227.32 425.68,226.80 426.03,226.25 426.39,225.65 426.76,225.01 427.14,224.31 427.53,223.57 427.94,222.77 428.35,221.91 428.78,220.99 429.22,220.01 429.67,218.97 430.13,217.86 430.61,216.68 431.09,215.43 431.59,214.10 432.10,212.70 432.61,211.21 433.14,209.65 433.69,208.01 434.24,206.28 434.80,204.47 435.38,202.57 435.96,200.58 436.56,198.51 437.17,196.35 437.79,194.10 438.41,191.76 439.06,189.34 439.71,186.83 440.37,184.23 441.04,181.55 441.72,178.78 442.42,175.94 443.12,173.01 443.84,170.01 444.56,166.94 445.30,163.80 446.04,160.59 446.80,157.32 447.56,153.99 448.34,150.61 449.12,147.17 449.91,143.70 450.72,140.18 451.53,136.63 452.35,133.06 453.18,129.46 454.03,125.84 454.87,122.21 455.73,118.58 456.60,114.94 457.48,111.31 458.36,107.69 459.25,104.09 460.16,100.52 461.07,96.97 461.98,93.45 462.91,89.98 463.85,86.54 464.79,83.16 465.74,79.83 466.70,76.56 467.67,73.35 468.64,70.21 469.62,67.14 470.61,64.14 471.61,61.21 472.62,58.37 473.64,55.60 474.66,52.92 475.69,50.32 476.73,47.81 477.78,45.39 478.84,43.05 479.90,40.80 480.98,38.64 482.06,36.57 483.15,34.58 484.26,32.68 485.37,30.87 486.49,29.14 487.62,27.50 488.92,25.94 490.24,24.45 491.58,23.05 492.94,21.72 494.31,20.47 495.71,19.29 497.12,18.18 498.55,17.14 500.00,16.16 501.48,15.24 502.97,14.38 504.52,13.58 506.19,12.84 507.88,12.14 509.61,11.50 511.35,10.90 513.13,10.35 514.93,9.83 516.75,9.36 518.61,8.93 520.49,8.52 522.40,8.16 524.34,7.82 526.31,7.51 528.31,7.23 530.34,6.97 532.40,6.73 534.50,6.52 536.62,6.32 538.77,6.15 540.96,5.99 543.18,5.84 545.44,5.71 547.73,5.59 550.05,5.49 552.41,5.39 554.80,5.31 557.23,5.23 559.70,5.16 562.20,5.10 564.75,5.05 567.33,5.00 569.95,4.96 572.61,4.92 575.30,4.89 578.04,4.86 580.83,4.83 583.65,4.81 586.52,4.79 589.43,4.77 592.38,4.75 595.38,4.74 598.42,4.73 601.51,4.72 604.65,4.71 607.83,4.70 611.06,4.69 614.34,4.69 677.4,4.7" fill="none" stroke="#4A7A32" stroke-width="1.4" stroke-linejoin="round"/>
<polyline points="394.0,232.5 412.20,232.49 412.43,232.49 412.66,232.49 412.89,232.49 413.13,232.49 413.37,232.48 413.61,232.48 413.85,232.48 414.10,232.47 414.35,232.47 414.61,232.46 414.86,232.46 415.12,232.45 415.39,232.44 415.65,232.43 415.93,232.42 416.20,232.41 416.48,232.40 416.76,232.38 417.04,232.36 417.33,232.34 417.62,232.32 417.91,232.29 418.21,232.26 418.51,232.23 418.82,232.19 419.13,232.15 419.44,232.10 419.76,232.05 420.08,231.99 420.41,231.92 420.74,231.84 421.07,231.76 421.41,231.66 421.75,231.56 422.10,231.44 422.45,231.31 422.80,231.16 423.16,231.00 423.52,230.83 423.89,230.63 424.27,230.42 424.64,230.18 425.03,229.92 425.41,229.64 425.81,229.33 426.20,228.99 426.60,228.63 426.97,228.22 427.30,227.79 427.65,227.32 428.01,226.80 428.39,226.25 428.77,225.65 429.17,225.01 429.58,224.31 430.00,223.57 430.43,222.77 430.88,221.91 431.34,220.99 431.81,220.01 432.30,218.97 432.79,217.86 433.30,216.68 433.82,215.43 434.35,214.10 434.90,212.70 435.46,211.21 436.02,209.65 436.61,208.01 437.20,206.28 437.80,204.47 438.42,202.57 439.05,200.58 439.69,198.51 440.34,196.35 441.01,194.10 441.68,191.76 442.37,189.34 443.07,186.83 443.78,184.23 444.50,181.55 445.24,178.78 445.98,175.94 446.74,173.01 447.50,170.01 448.28,166.94 449.07,163.80 449.87,160.59 450.68,157.32 451.50,153.99 452.33,150.61 453.18,147.17 454.03,143.70 454.89,140.18 455.76,136.63 456.65,133.06 457.54,129.46 458.44,125.84 459.35,122.21 460.28,118.58 461.21,114.94 462.15,111.31 463.10,107.69 464.06,104.09 465.02,100.52 466.00,96.97 466.99,93.45 467.98,89.98 468.99,86.54 470.00,83.16 471.02,79.83 472.05,76.56 473.09,73.35 474.13,70.21 475.19,67.14 476.25,64.14 477.32,61.21 478.41,58.37 479.50,55.60 480.59,52.92 481.70,50.32 482.82,47.81 483.94,45.39 485.08,43.05 486.22,40.80 487.38,38.64 488.54,36.57 489.71,34.58 490.90,32.68 492.09,30.87 493.30,29.14 494.51,27.50 495.91,25.94 497.32,24.45 498.76,23.05 500.22,21.72 501.69,20.47 503.19,19.29 504.71,18.18 506.24,17.14 507.80,16.16 509.39,15.24 510.99,14.38 512.65,13.58 514.44,12.84 516.26,12.14 518.11,11.50 519.99,10.90 521.89,10.35 523.82,9.83 525.79,9.36 527.78,8.93 529.80,8.52 531.85,8.16 533.94,7.82 536.05,7.51 538.20,7.23 540.38,6.97 542.59,6.73 544.83,6.52 547.11,6.32 549.43,6.15 551.78,5.99 554.16,5.84 556.58,5.71 559.04,5.59 561.53,5.49 564.06,5.39 566.63,5.31 569.24,5.23 571.89,5.16 574.58,5.10 577.31,5.05 580.08,5.00 582.89,4.96 585.75,4.92 588.65,4.89 591.59,4.86 594.57,4.83 597.60,4.81 600.68,4.79 603.81,4.77 606.98,4.75 610.19,4.74 613.46,4.73 616.78,4.72 620.15,4.71 623.56,4.70 627.03,4.69 630.55,4.69 677.4,4.7" fill="none" stroke="#F2A982" stroke-width="1.4" stroke-linejoin="round"/>
<polyline points="394.0,232.5 411.91,232.49 412.14,232.49 412.36,232.49 412.59,232.49 412.83,232.49 413.06,232.48 413.30,232.48 413.54,232.48 413.78,232.47 414.03,232.47 414.28,232.46 414.53,232.46 414.79,232.45 415.05,232.44 415.31,232.43 415.58,232.42 415.85,232.41 416.12,232.40 416.39,232.38 416.67,232.36 416.96,232.34 417.24,232.32 417.53,232.29 417.83,232.26 418.12,232.23 418.43,232.19 418.73,232.15 419.04,232.10 419.35,232.05 419.67,231.99 419.99,231.92 420.31,231.84 420.64,231.76 420.97,231.66 421.31,231.56 421.65,231.44 422.00,231.31 422.34,231.16 422.70,231.00 423.06,230.83 423.42,230.63 423.79,230.42 424.16,230.18 424.53,229.92 424.91,229.64 425.30,229.33 425.69,228.99 426.09,228.63 426.45,228.22 426.78,227.79 427.12,227.32 427.47,226.80 427.84,226.25 428.22,225.65 428.61,225.01 429.01,224.31 429.43,223.57 429.86,222.77 430.30,221.91 430.75,220.99 431.21,220.01 431.69,218.97 432.18,217.86 432.68,216.68 433.19,215.43 433.71,214.10 434.25,212.70 434.80,211.21 435.36,209.65 435.93,208.01 436.51,206.28 437.11,204.47 437.72,202.57 438.33,200.58 438.96,198.51 439.61,196.35 440.26,194.10 440.93,191.76 441.60,189.34 442.29,186.83 442.99,184.23 443.70,181.55 444.42,178.78 445.16,175.94 445.90,173.01 446.65,170.01 447.42,166.94 448.20,163.80 448.98,160.59 449.78,157.32 450.59,153.99 451.41,150.61 452.24,147.17 453.08,143.70 453.92,140.18 454.78,136.63 455.65,133.06 456.53,129.46 457.42,125.84 458.32,122.21 459.22,118.58 460.14,114.94 461.07,111.31 462.00,107.69 462.94,104.09 463.90,100.52 464.86,96.97 465.83,93.45 466.81,89.98 467.79,86.54 468.79,83.16 469.80,79.83 470.81,76.56 471.83,73.35 472.86,70.21 473.90,67.14 474.95,64.14 476.00,61.21 477.07,58.37 478.14,55.60 479.22,52.92 480.31,50.32 481.41,47.81 482.52,45.39 483.63,43.05 484.76,40.80 485.89,38.64 487.04,36.57 488.19,34.58 489.36,32.68 490.53,30.87 491.72,29.14 492.92,27.50 494.29,25.94 495.68,24.45 497.10,23.05 498.53,21.72 499.98,20.47 501.46,19.29 502.95,18.18 504.46,17.14 506.00,16.16 507.55,15.24 509.13,14.38 510.77,13.58 512.53,12.84 514.32,12.14 516.14,11.50 517.99,10.90 519.86,10.35 521.76,9.83 523.69,9.36 525.65,8.93 527.64,8.52 529.66,8.16 531.71,7.82 533.80,7.51 535.91,7.23 538.05,6.97 540.23,6.73 542.44,6.52 544.68,6.32 546.96,6.15 549.27,5.99 551.62,5.84 554.00,5.71 556.42,5.59 558.87,5.49 561.37,5.39 563.89,5.31 566.46,5.23 569.07,5.16 571.71,5.10 574.40,5.05 577.13,5.00 579.89,4.96 582.70,4.92 585.56,4.89 588.45,4.86 591.39,4.83 594.37,4.81 597.40,4.79 600.47,4.77 603.60,4.75 606.76,4.74 609.98,4.73 613.24,4.72 616.56,4.71 619.92,4.70 623.33,4.69 626.80,4.69 677.4,4.7" fill="none" stroke="#B0B0B0" stroke-width="1.4" stroke-linejoin="round"/>
<polyline points="394.0,232.5 411.72,232.49 411.94,232.49 412.16,232.49 412.39,232.49 412.62,232.49 412.85,232.48 413.09,232.48 413.33,232.48 413.57,232.47 413.81,232.47 414.06,232.46 414.31,232.46 414.56,232.45 414.82,232.44 415.08,232.43 415.34,232.42 415.61,232.41 415.88,232.40 416.15,232.38 416.43,232.36 416.71,232.34 416.99,232.32 417.28,232.29 417.57,232.26 417.86,232.23 418.16,232.19 418.46,232.15 418.77,232.10 419.07,232.05 419.39,231.99 419.70,231.92 420.02,231.84 420.35,231.76 420.68,231.66 421.01,231.56 421.35,231.44 421.69,231.31 422.03,231.16 422.38,231.00 422.74,230.83 423.10,230.63 423.46,230.42 423.83,230.18 424.20,229.92 424.58,229.64 424.96,229.33 425.34,228.99 425.74,228.63 426.09,228.22 426.42,227.79 426.76,227.32 427.11,226.80 427.47,226.25 427.84,225.65 428.23,225.01 428.63,224.31 429.04,223.57 429.46,222.77 429.90,221.91 430.35,220.99 430.81,220.01 431.28,218.97 431.76,217.86 432.25,216.68 432.76,215.43 433.28,214.10 433.81,212.70 434.35,211.21 434.90,209.65 435.47,208.01 436.05,206.28 436.64,204.47 437.24,202.57 437.85,200.58 438.47,198.51 439.11,196.35 439.75,194.10 440.41,191.76 441.08,189.34 441.76,186.83 442.45,184.23 443.16,181.55 443.87,178.78 444.60,175.94 445.33,173.01 446.08,170.01 446.84,166.94 447.60,163.80 448.38,160.59 449.17,157.32 449.97,153.99 450.78,150.61 451.60,147.17 452.43,143.70 453.27,140.18 454.12,136.63 454.98,133.06 455.85,129.46 456.73,125.84 457.61,122.21 458.51,118.58 459.42,114.94 460.33,111.31 461.26,107.69 462.19,104.09 463.13,100.52 464.08,96.97 465.04,93.45 466.01,89.98 466.99,86.54 467.97,83.16 468.97,79.83 469.97,76.56 470.98,73.35 472.00,70.21 473.03,67.14 474.06,64.14 475.11,61.21 476.16,58.37 477.22,55.60 478.29,52.92 479.37,50.32 480.45,47.81 481.55,45.39 482.65,43.05 483.77,40.80 484.89,38.64 486.02,36.57 487.16,34.58 488.32,32.68 489.48,30.87 490.65,29.14 491.83,27.50 493.19,25.94 494.57,24.45 495.97,23.05 497.39,21.72 498.82,20.47 500.28,19.29 501.76,18.18 503.25,17.14 504.77,16.16 506.31,15.24 507.87,14.38 509.49,13.58 511.23,12.84 513.01,12.14 514.81,11.50 516.63,10.90 518.48,10.35 520.37,9.83 522.28,9.36 524.21,8.93 526.18,8.52 528.18,8.16 530.21,7.82 532.27,7.51 534.36,7.23 536.48,6.97 538.63,6.73 540.82,6.52 543.03,6.32 545.29,6.15 547.57,5.99 549.89,5.84 552.25,5.71 554.64,5.59 557.07,5.49 559.53,5.39 562.04,5.31 564.58,5.23 567.15,5.16 569.77,5.10 572.43,5.05 575.12,5.00 577.86,4.96 580.64,4.92 583.46,4.89 586.32,4.86 589.23,4.83 592.18,4.81 595.18,4.79 598.22,4.77 601.30,4.75 604.44,4.74 607.62,4.73 610.84,4.72 614.12,4.71 617.45,4.70 620.83,4.69 624.25,4.69 677.4,4.7" fill="none" stroke="#FFC61E" stroke-width="1.4" stroke-linejoin="round"/>
<polyline points="394.0,232.5 411.16,232.49 411.38,232.49 411.59,232.49 411.81,232.49 412.03,232.49 412.26,232.48 412.49,232.48 412.72,232.48 412.95,232.47 413.19,232.47 413.43,232.46 413.67,232.46 413.91,232.45 414.16,232.44 414.41,232.43 414.67,232.42 414.93,232.41 415.19,232.40 415.45,232.38 415.72,232.36 415.99,232.34 416.27,232.32 416.54,232.29 416.82,232.26 417.11,232.23 417.40,232.19 417.69,232.15 417.99,232.10 418.28,232.05 418.59,231.99 418.89,231.92 419.20,231.84 419.52,231.76 419.84,231.66 420.16,231.56 420.49,231.44 420.82,231.31 421.15,231.16 421.49,231.00 421.83,230.83 422.18,230.63 422.53,230.42 422.89,230.18 423.25,229.92 423.61,229.64 423.98,229.33 424.36,228.99 424.74,228.63 425.08,228.22 425.40,227.79 425.72,227.32 426.06,226.80 426.42,226.25 426.78,225.65 427.15,225.01 427.54,224.31 427.94,223.57 428.35,222.77 428.77,221.91 429.20,220.99 429.65,220.01 430.10,218.97 430.57,217.86 431.05,216.68 431.54,215.43 432.04,214.10 432.56,212.70 433.08,211.21 433.62,209.65 434.16,208.01 434.72,206.28 435.29,204.47 435.88,202.57 436.47,200.58 437.07,198.51 437.69,196.35 438.31,194.10 438.95,191.76 439.60,189.34 440.26,186.83 440.93,184.23 441.61,181.55 442.30,178.78 443.00,175.94 443.72,173.01 444.44,170.01 445.17,166.94 445.92,163.80 446.67,160.59 447.43,157.32 448.21,153.99 448.99,150.61 449.79,147.17 450.59,143.70 451.40,140.18 452.23,136.63 453.06,133.06 453.90,129.46 454.75,125.84 455.61,122.21 456.48,118.58 457.36,114.94 458.24,111.31 459.14,107.69 460.04,104.09 460.95,100.52 461.88,96.97 462.81,93.45 463.74,89.98 464.69,86.54 465.64,83.16 466.61,79.83 467.58,76.56 468.56,73.35 469.54,70.21 470.54,67.14 471.54,64.14 472.55,61.21 473.57,58.37 474.60,55.60 475.63,52.92 476.68,50.32 477.73,47.81 478.79,45.39 479.86,43.05 480.94,40.80 482.03,38.64 483.12,36.57 484.23,34.58 485.35,32.68 486.47,30.87 487.61,29.14 488.75,27.50 490.07,25.94 491.41,24.45 492.76,23.05 494.13,21.72 495.52,20.47 496.93,19.29 498.36,18.18 499.81,17.14 501.28,16.16 502.77,15.24 504.29,14.38 505.85,13.58 507.54,12.84 509.26,12.14 511.00,11.50 512.77,10.90 514.56,10.35 516.39,9.83 518.24,9.36 520.11,8.93 522.02,8.52 523.95,8.16 525.92,7.82 527.91,7.51 529.94,7.23 531.99,6.97 534.08,6.73 536.19,6.52 538.34,6.32 540.52,6.15 542.74,5.99 544.98,5.84 547.27,5.71 549.58,5.59 551.93,5.49 554.32,5.39 556.74,5.31 559.20,5.23 561.70,5.16 564.23,5.10 566.81,5.05 569.42,5.00 572.07,4.96 574.76,4.92 577.49,4.89 580.27,4.86 583.08,4.83 585.94,4.81 588.84,4.79 591.78,4.77 594.77,4.75 597.81,4.74 600.89,4.73 604.02,4.72 607.19,4.71 610.41,4.70 613.68,4.69 617.00,4.69 677.4,4.7" fill="none" stroke="#5B8DD9" stroke-width="1.4" stroke-linejoin="round"/>
<polyline points="394.0,232.5 411.14,232.49 411.36,232.49 411.57,232.49 411.79,232.49 412.02,232.49 412.24,232.48 412.47,232.48 412.70,232.48 412.93,232.47 413.17,232.47 413.41,232.46 413.65,232.46 413.89,232.45 414.14,232.44 414.39,232.43 414.65,232.42 414.91,232.41 415.17,232.40 415.43,232.38 415.70,232.36 415.97,232.34 416.24,232.32 416.52,232.29 416.80,232.26 417.09,232.23 417.37,232.19 417.67,232.15 417.96,232.10 418.26,232.05 418.56,231.99 418.87,231.92 419.18,231.84 419.49,231.76 419.81,231.66 420.13,231.56 420.46,231.44 420.79,231.31 421.12,231.16 421.46,231.00 421.81,230.83 422.15,230.63 422.50,230.42 422.86,230.18 423.22,229.92 423.58,229.64 423.95,229.33 424.33,228.99 424.71,228.63 425.05,228.22 425.37,227.79 425.69,227.32 426.03,226.80 426.38,226.25 426.75,225.65 427.12,225.01 427.51,224.31 427.90,223.57 428.31,222.77 428.73,221.91 429.17,220.99 429.61,220.01 430.07,218.97 430.53,217.86 431.01,216.68 431.50,215.43 432.00,214.10 432.52,212.70 433.04,211.21 433.58,209.65 434.12,208.01 434.68,206.28 435.25,204.47 435.83,202.57 436.43,200.58 437.03,198.51 437.64,196.35 438.27,194.10 438.91,191.76 439.55,189.34 440.21,186.83 440.88,184.23 441.56,181.55 442.25,178.78 442.95,175.94 443.67,173.01 444.39,170.01 445.12,166.94 445.86,163.80 446.62,160.59 447.38,157.32 448.15,153.99 448.94,150.61 449.73,147.17 450.53,143.70 451.35,140.18 452.17,136.63 453.00,133.06 453.84,129.46 454.69,125.84 455.55,122.21 456.42,118.58 457.29,114.94 458.18,111.31 459.07,107.69 459.98,104.09 460.89,100.52 461.81,96.97 462.74,93.45 463.67,89.98 464.62,86.54 465.57,83.16 466.53,79.83 467.50,76.56 468.48,73.35 469.47,70.21 470.46,67.14 471.46,64.14 472.47,61.21 473.49,58.37 474.52,55.60 475.55,52.92 476.59,50.32 477.65,47.81 478.71,45.39 479.77,43.05 480.85,40.80 481.94,38.64 483.03,36.57 484.14,34.58 485.25,32.68 486.38,30.87 487.51,29.14 488.66,27.50 489.97,25.94 491.31,24.45 492.66,23.05 494.03,21.72 495.42,20.47 496.83,19.29 498.26,18.18 499.71,17.14 501.18,16.16 502.67,15.24 504.18,14.38 505.74,13.58 507.43,12.84 509.14,12.14 510.88,11.50 512.65,10.90 514.44,10.35 516.26,9.83 518.11,9.36 519.99,8.93 521.89,8.52 523.82,8.16 525.79,7.82 527.78,7.51 529.80,7.23 531.85,6.97 533.94,6.73 536.05,6.52 538.20,6.32 540.38,6.15 542.59,5.99 544.83,5.84 547.11,5.71 549.43,5.59 551.78,5.49 554.16,5.39 556.58,5.31 559.04,5.23 561.53,5.16 564.06,5.10 566.63,5.05 569.24,5.00 571.89,4.96 574.58,4.92 577.31,4.89 580.08,4.86 582.89,4.83 585.75,4.81 588.65,4.79 591.59,4.77 594.57,4.75 597.60,4.74 600.68,4.73 603.81,4.72 606.98,4.71 610.19,4.70 613.46,4.69 616.78,4.69 677.4,4.7" fill="none" stroke="#7DB84F" stroke-width="1.4" stroke-linejoin="round"/>
<polyline points="394.0,232.5 411.25,232.49 411.46,232.49 411.68,232.49 411.90,232.49 412.12,232.49 412.35,232.48 412.58,232.48 412.81,232.48 413.05,232.47 413.28,232.47 413.52,232.46 413.77,232.46 414.01,232.45 414.26,232.44 414.52,232.43 414.77,232.42 415.03,232.41 415.29,232.40 415.56,232.38 415.83,232.36 416.10,232.34 416.38,232.32 416.66,232.29 416.94,232.26 417.23,232.23 417.51,232.19 417.81,232.15 418.11,232.10 418.41,232.05 418.71,231.99 419.02,231.92 419.33,231.84 419.65,231.76 419.97,231.66 420.29,231.56 420.62,231.44 420.95,231.31 421.29,231.16 421.63,231.00 421.97,230.83 422.32,230.63 422.68,230.42 423.03,230.18 423.40,229.92 423.76,229.64 424.13,229.33 424.51,228.99 424.89,228.63 425.24,228.22 425.55,227.79 425.88,227.32 426.22,226.80 426.58,226.25 426.94,225.65 427.32,225.01 427.71,224.31 428.11,223.57 428.52,222.77 428.94,221.91 429.38,220.99 429.82,220.01 430.28,218.97 430.75,217.86 431.23,216.68 431.73,215.43 432.23,214.10 432.75,212.70 433.28,211.21 433.82,209.65 434.37,208.01 434.93,206.28 435.50,204.47 436.09,202.57 436.68,200.58 437.29,198.51 437.91,196.35 438.54,194.10 439.18,191.76 439.83,189.34 440.49,186.83 441.16,184.23 441.85,181.55 442.54,178.78 443.25,175.94 443.96,173.01 444.69,170.01 445.43,166.94 446.18,163.80 446.93,160.59 447.70,157.32 448.48,153.99 449.27,150.61 450.07,147.17 450.87,143.70 451.69,140.18 452.52,136.63 453.35,133.06 454.20,129.46 455.05,125.84 455.92,122.21 456.79,118.58 457.67,114.94 458.56,111.31 459.46,107.69 460.37,104.09 461.29,100.52 462.22,96.97 463.15,93.45 464.09,89.98 465.04,86.54 466.00,83.16 466.97,79.83 467.95,76.56 468.93,73.35 469.92,70.21 470.92,67.14 471.93,64.14 472.94,61.21 473.97,58.37 475.00,55.60 476.04,52.92 477.09,50.32 478.15,47.81 479.22,45.39 480.29,43.05 481.37,40.80 482.47,38.64 483.57,36.57 484.68,34.58 485.80,32.68 486.93,30.87 488.08,29.14 489.23,27.50 490.55,25.94 491.89,24.45 493.25,23.05 494.63,21.72 496.03,20.47 497.45,19.29 498.89,18.18 500.34,17.14 501.82,16.16 503.32,15.24 504.84,14.38 506.41,13.58 508.11,12.84 509.84,12.14 511.59,11.50 513.36,10.90 515.17,10.35 517.00,9.83 518.86,9.36 520.75,8.93 522.66,8.52 524.61,8.16 526.58,7.82 528.58,7.51 530.62,7.23 532.68,6.97 534.78,6.73 536.90,6.52 539.06,6.32 541.26,6.15 543.48,5.99 545.74,5.84 548.03,5.71 550.36,5.59 552.73,5.49 555.12,5.39 557.56,5.31 560.03,5.23 562.54,5.16 565.09,5.10 567.67,5.05 570.30,5.00 572.96,4.96 575.67,4.92 578.41,4.89 581.20,4.86 584.03,4.83 586.90,4.81 589.82,4.79 592.78,4.77 595.78,4.75 598.83,4.74 601.93,4.73 605.07,4.72 608.26,4.71 611.50,4.70 614.78,4.69 618.12,4.69 677.4,4.7" fill="none" stroke="#2E6DA8" stroke-width="1.4" stroke-linejoin="round"/>
<polyline points="394.0,232.5 411.30,232.49 411.51,232.49 411.73,232.49 411.95,232.49 412.18,232.49 412.41,232.48 412.63,232.48 412.87,232.48 413.10,232.47 413.34,232.47 413.58,232.46 413.83,232.46 414.07,232.45 414.32,232.44 414.58,232.43 414.83,232.42 415.09,232.41 415.36,232.40 415.62,232.38 415.89,232.36 416.17,232.34 416.44,232.32 416.72,232.29 417.01,232.26 417.29,232.23 417.59,232.19 417.88,232.15 418.18,232.10 418.48,232.05 418.78,231.99 419.09,231.92 419.41,231.84 419.72,231.76 420.05,231.66 420.37,231.56 420.70,231.44 421.03,231.31 421.37,231.16 421.71,231.00 422.06,230.83 422.41,230.63 422.76,230.42 423.12,230.18 423.48,229.92 423.85,229.64 424.22,229.33 424.60,228.99 424.98,228.63 425.33,228.22 425.65,227.79 425.98,227.32 426.32,226.80 426.68,226.25 427.04,225.65 427.42,225.01 427.81,224.31 428.21,223.57 428.62,222.77 429.05,221.91 429.48,220.99 429.93,220.01 430.39,218.97 430.86,217.86 431.35,216.68 431.84,215.43 432.35,214.10 432.86,212.70 433.39,211.21 433.93,209.65 434.49,208.01 435.05,206.28 435.63,204.47 436.21,202.57 436.81,200.58 437.42,198.51 438.04,196.35 438.67,194.10 439.31,191.76 439.97,189.34 440.63,186.83 441.31,184.23 441.99,181.55 442.69,178.78 443.40,175.94 444.11,173.01 444.84,170.01 445.58,166.94 446.33,163.80 447.09,160.59 447.86,157.32 448.64,153.99 449.43,150.61 450.23,147.17 451.04,143.70 451.86,140.18 452.69,136.63 453.53,133.06 454.38,129.46 455.24,125.84 456.10,122.21 456.98,118.58 457.87,114.94 458.76,111.31 459.66,107.69 460.57,104.09 461.49,100.52 462.42,96.97 463.36,93.45 464.30,89.98 465.26,86.54 466.22,83.16 467.19,79.83 468.17,76.56 469.15,73.35 470.15,70.21 471.15,67.14 472.16,64.14 473.18,61.21 474.21,58.37 475.24,55.60 476.29,52.92 477.34,50.32 478.40,47.81 479.47,45.39 480.55,43.05 481.64,40.80 482.73,38.64 483.84,36.57 484.95,34.58 486.08,32.68 487.21,30.87 488.36,29.14 489.51,27.50 490.84,25.94 492.19,24.45 493.55,23.05 494.94,21.72 496.34,20.47 497.76,19.29 499.20,18.18 500.66,17.14 502.15,16.16 503.65,15.24 505.17,14.38 506.75,13.58 508.45,12.84 510.18,12.14 511.94,11.50 513.72,10.90 515.53,10.35 517.37,9.83 519.23,9.36 521.13,8.93 523.05,8.52 525.00,8.16 526.98,7.82 528.99,7.51 531.03,7.23 533.10,6.97 535.20,6.73 537.33,6.52 539.50,6.32 541.70,6.15 543.93,5.99 546.20,5.84 548.50,5.71 550.83,5.59 553.20,5.49 555.61,5.39 558.05,5.31 560.53,5.23 563.05,5.16 565.60,5.10 568.20,5.05 570.83,5.00 573.50,4.96 576.21,4.92 578.97,4.89 581.76,4.86 584.60,4.83 587.48,4.81 590.41,4.79 593.37,4.77 596.39,4.75 599.45,4.74 602.55,4.73 605.70,4.72 608.90,4.71 612.15,4.70 615.45,4.69 618.79,4.69 677.4,4.7" fill="none" stroke="#6DAAE0" stroke-width="1.4" stroke-linejoin="round"/>
<polyline points="394.0,232.5 411.54,232.49 411.76,232.49 411.98,232.49 412.21,232.49 412.43,232.49 412.66,232.48 412.90,232.48 413.13,232.48 413.37,232.47 413.61,232.47 413.86,232.46 414.11,232.46 414.36,232.45 414.61,232.44 414.87,232.43 415.13,232.42 415.39,232.41 415.66,232.40 415.93,232.38 416.20,232.36 416.48,232.34 416.76,232.32 417.04,232.29 417.33,232.26 417.62,232.23 417.92,232.19 418.22,232.15 418.52,232.10 418.82,232.05 419.13,231.99 419.45,231.92 419.77,231.84 420.09,231.76 420.41,231.66 420.74,231.56 421.08,231.44 421.41,231.31 421.76,231.16 422.10,231.00 422.45,230.83 422.81,230.63 423.17,230.42 423.53,230.18 423.90,229.92 424.27,229.64 424.65,229.33 425.03,228.99 425.42,228.63 425.77,228.22 426.09,227.79 426.43,227.32 426.78,226.80 427.14,226.25 427.51,225.65 427.89,225.01 428.29,224.31 428.69,223.57 429.11,222.77 429.54,221.91 429.98,220.99 430.44,220.01 430.91,218.97 431.38,217.86 431.87,216.68 432.37,215.43 432.89,214.10 433.41,212.70 433.95,211.21 434.50,209.65 435.06,208.01 435.63,206.28 436.21,204.47 436.81,202.57 437.41,200.58 438.03,198.51 438.66,196.35 439.30,194.10 439.95,191.76 440.61,189.34 441.29,186.83 441.97,184.23 442.67,181.55 443.38,178.78 444.09,175.94 444.82,173.01 445.56,170.01 446.31,166.94 447.07,163.80 447.84,160.59 448.62,157.32 449.41,153.99 450.22,150.61 451.03,147.17 451.85,143.70 452.68,140.18 453.52,136.63 454.37,133.06 455.23,129.46 456.10,125.84 456.98,122.21 457.87,118.58 458.77,114.94 459.67,111.31 460.59,107.69 461.51,104.09 462.44,100.52 463.39,96.97 464.34,93.45 465.29,89.98 466.26,86.54 467.24,83.16 468.22,79.83 469.21,76.56 470.21,73.35 471.22,70.21 472.24,67.14 473.26,64.14 474.30,61.21 475.34,58.37 476.39,55.60 477.45,52.92 478.52,50.32 479.59,47.81 480.68,45.39 481.77,43.05 482.87,40.80 483.98,38.64 485.11,36.57 486.24,34.58 487.38,32.68 488.53,30.87 489.69,29.14 490.86,27.50 492.21,25.94 493.57,24.45 494.96,23.05 496.36,21.72 497.78,20.47 499.22,19.29 500.68,18.18 502.17,17.14 503.67,16.16 505.19,15.24 506.74,14.38 508.34,13.58 510.07,12.84 511.82,12.14 513.60,11.50 515.41,10.90 517.25,10.35 519.11,9.83 521.00,9.36 522.92,8.93 524.87,8.52 526.84,8.16 528.85,7.82 530.89,7.51 532.96,7.23 535.06,6.97 537.19,6.73 539.36,6.52 541.55,6.32 543.78,6.15 546.05,5.99 548.34,5.84 550.68,5.71 553.04,5.59 555.45,5.49 557.89,5.39 560.36,5.31 562.88,5.23 565.43,5.16 568.02,5.10 570.65,5.05 573.32,5.00 576.03,4.96 578.78,4.92 581.58,4.89 584.41,4.86 587.29,4.83 590.21,4.81 593.17,4.79 596.18,4.77 599.24,4.75 602.34,4.74 605.49,4.73 608.69,4.72 611.93,4.71 615.22,4.70 618.57,4.69 621.96,4.69 677.4,4.7" fill="none" stroke="#B55A1E" stroke-width="1.4" stroke-linejoin="round"/>
<polyline points="394.0,232.5 411.32,232.49 411.53,232.49 411.75,232.49 411.97,232.49 412.20,232.49 412.42,232.48 412.65,232.48 412.89,232.48 413.12,232.47 413.36,232.47 413.60,232.46 413.85,232.46 414.09,232.45 414.34,232.44 414.60,232.43 414.86,232.42 415.12,232.41 415.38,232.40 415.65,232.38 415.92,232.36 416.19,232.34 416.47,232.32 416.75,232.29 417.03,232.26 417.32,232.23 417.61,232.19 417.90,232.15 418.20,232.10 418.50,232.05 418.81,231.99 419.12,231.92 419.43,231.84 419.75,231.76 420.07,231.66 420.40,231.56 420.73,231.44 421.06,231.31 421.40,231.16 421.74,231.00 422.08,230.83 422.44,230.63 422.79,230.42 423.15,230.18 423.51,229.92 423.88,229.64 424.25,229.33 424.63,228.99 425.01,228.63 425.36,228.22 425.68,227.79 426.01,227.32 426.35,226.80 426.71,226.25 427.07,225.65 427.45,225.01 427.84,224.31 428.24,223.57 428.66,222.77 429.08,221.91 429.52,220.99 429.97,220.01 430.43,218.97 430.90,217.86 431.38,216.68 431.88,215.43 432.39,214.10 432.90,212.70 433.43,211.21 433.97,209.65 434.53,208.01 435.09,206.28 435.67,204.47 436.25,202.57 436.85,200.58 437.46,198.51 438.08,196.35 438.71,194.10 439.36,191.76 440.01,189.34 440.68,186.83 441.35,184.23 442.04,181.55 442.74,178.78 443.45,175.94 444.16,173.01 444.89,170.01 445.63,166.94 446.39,163.80 447.15,160.59 447.92,157.32 448.70,153.99 449.49,150.61 450.29,147.17 451.10,143.70 451.92,140.18 452.75,136.63 453.59,133.06 454.44,129.46 455.30,125.84 456.17,122.21 457.04,118.58 457.93,114.94 458.82,111.31 459.73,107.69 460.64,104.09 461.56,100.52 462.49,96.97 463.43,93.45 464.37,89.98 465.33,86.54 466.29,83.16 467.26,79.83 468.24,76.56 469.23,73.35 470.22,70.21 471.23,67.14 472.24,64.14 473.26,61.21 474.29,58.37 475.33,55.60 476.37,52.92 477.42,50.32 478.49,47.81 479.56,45.39 480.64,43.05 481.72,40.80 482.82,38.64 483.93,36.57 485.05,34.58 486.17,32.68 487.31,30.87 488.45,29.14 489.61,27.50 490.94,25.94 492.29,24.45 493.65,23.05 495.04,21.72 496.44,20.47 497.86,19.29 499.31,18.18 500.77,17.14 502.25,16.16 503.76,15.24 505.28,14.38 506.86,13.58 508.57,12.84 510.30,12.14 512.06,11.50 513.84,10.90 515.65,10.35 517.49,9.83 519.36,9.36 521.25,8.93 523.18,8.52 525.13,8.16 527.11,7.82 529.12,7.51 531.16,7.23 533.24,6.97 535.34,6.73 537.48,6.52 539.65,6.32 541.85,6.15 544.08,5.99 546.35,5.84 548.65,5.71 550.99,5.59 553.36,5.49 555.77,5.39 558.22,5.31 560.70,5.23 563.22,5.16 565.77,5.10 568.37,5.05 571.01,5.00 573.68,4.96 576.40,4.92 579.15,4.89 581.95,4.86 584.79,4.83 587.67,4.81 590.60,4.79 593.57,4.77 596.59,4.75 599.65,4.74 602.76,4.73 605.91,4.72 609.12,4.71 612.37,4.70 615.67,4.69 619.02,4.69 677.4,4.7" fill="none" stroke="#6E6E6E" stroke-width="1.4" stroke-linejoin="round"/>
<polyline points="394.0,232.5 410.79,232.49 411.00,232.49 411.21,232.49 411.42,232.49 411.64,232.49 411.86,232.48 412.08,232.48 412.31,232.48 412.54,232.47 412.77,232.47 413.00,232.46 413.24,232.46 413.48,232.45 413.72,232.44 413.97,232.43 414.22,232.42 414.47,232.41 414.73,232.40 414.99,232.38 415.25,232.36 415.51,232.34 415.78,232.32 416.05,232.29 416.33,232.26 416.61,232.23 416.89,232.19 417.17,232.15 417.46,232.10 417.76,232.05 418.05,231.99 418.35,231.92 418.66,231.84 418.96,231.76 419.28,231.66 419.59,231.56 419.91,231.44 420.23,231.31 420.56,231.16 420.89,231.00 421.23,230.83 421.57,230.63 421.91,230.42 422.26,230.18 422.61,229.92 422.97,229.64 423.33,229.33 423.70,228.99 424.07,228.63 424.40,228.22 424.71,227.79 425.03,227.32 425.37,226.80 425.71,226.25 426.07,225.65 426.43,225.01 426.81,224.31 427.20,223.57 427.60,222.77 428.01,221.91 428.44,220.99 428.87,220.01 429.32,218.97 429.77,217.86 430.24,216.68 430.72,215.43 431.21,214.10 431.72,212.70 432.23,211.21 432.75,209.65 433.29,208.01 433.84,206.28 434.40,204.47 434.96,202.57 435.54,200.58 436.14,198.51 436.74,196.35 437.35,194.10 437.97,191.76 438.61,189.34 439.25,186.83 439.91,184.23 440.57,181.55 441.25,178.78 441.94,175.94 442.63,173.01 443.34,170.01 444.06,166.94 444.79,163.80 445.52,160.59 446.27,157.32 447.03,153.99 447.80,150.61 448.57,147.17 449.36,143.70 450.15,140.18 450.96,136.63 451.77,133.06 452.60,129.46 453.43,125.84 454.27,122.21 455.12,118.58 455.98,114.94 456.84,111.31 457.72,107.69 458.60,104.09 459.50,100.52 460.40,96.97 461.31,93.45 462.23,89.98 463.15,86.54 464.08,83.16 465.03,79.83 465.98,76.56 466.93,73.35 467.90,70.21 468.87,67.14 469.85,64.14 470.84,61.21 471.84,58.37 472.84,55.60 473.86,52.92 474.88,50.32 475.91,47.81 476.95,45.39 477.99,43.05 479.05,40.80 480.11,38.64 481.18,36.57 482.27,34.58 483.36,32.68 484.46,30.87 485.57,29.14 486.69,27.50 487.98,25.94 489.29,24.45 490.61,23.05 491.95,21.72 493.31,20.47 494.69,19.29 496.09,18.18 497.51,17.14 498.95,16.16 500.41,15.24 501.89,14.38 503.42,13.58 505.07,12.84 506.75,12.14 508.45,11.50 510.18,10.90 511.94,10.35 513.72,9.83 515.53,9.36 517.37,8.93 519.23,8.52 521.13,8.16 523.05,7.82 525.00,7.51 526.98,7.23 528.99,6.97 531.03,6.73 533.10,6.52 535.20,6.32 537.33,6.15 539.50,5.99 541.70,5.84 543.93,5.71 546.20,5.59 548.50,5.49 550.83,5.39 553.20,5.31 555.61,5.23 558.05,5.16 560.53,5.10 563.05,5.05 565.60,5.00 568.20,4.96 570.83,4.92 573.50,4.89 576.21,4.86 578.97,4.83 581.76,4.81 584.60,4.79 587.48,4.77 590.41,4.75 593.37,4.74 596.39,4.73 599.45,4.72 602.55,4.71 605.70,4.70 608.90,4.69 612.15,4.69 677.4,4.7" fill="none" stroke="#A37F1C" stroke-width="1.4" stroke-linejoin="round"/>
<text transform="translate(384.60,236.50) scale(0.945,1)" class="t" text-anchor="end">0</text>
<text transform="translate(384.60,213.72) scale(0.945,1)" class="t" text-anchor="end">0.1</text>
<text transform="translate(384.60,190.93) scale(0.945,1)" class="t" text-anchor="end">0.2</text>
<text transform="translate(384.60,168.15) scale(0.945,1)" class="t" text-anchor="end">0.3</text>
<text transform="translate(384.60,145.36) scale(0.945,1)" class="t" text-anchor="end">0.4</text>
<text transform="translate(384.60,122.58) scale(0.945,1)" class="t" text-anchor="end">0.5</text>
<text transform="translate(384.60,99.79) scale(0.945,1)" class="t" text-anchor="end">0.6</text>
<text transform="translate(384.60,77.00) scale(0.945,1)" class="t" text-anchor="end">0.7</text>
<text transform="translate(384.60,54.22) scale(0.945,1)" class="t" text-anchor="end">0.8</text>
<text transform="translate(384.60,31.44) scale(0.945,1)" class="t" text-anchor="end">0.9</text>
<text transform="translate(384.60,8.65) scale(0.945,1)" class="t" text-anchor="end">1</text>
<text transform="translate(394.50,249.6) scale(0.945,1)" class="t" text-anchor="middle">0</text>
<text transform="translate(451.18,249.6) scale(0.945,1)" class="t" text-anchor="middle">0.5</text>
<text transform="translate(507.86,249.6) scale(0.945,1)" class="t" text-anchor="middle">1</text>
<text transform="translate(564.54,249.6) scale(0.945,1)" class="t" text-anchor="middle">1.5</text>
<text transform="translate(621.22,249.6) scale(0.945,1)" class="t" text-anchor="middle">2</text>
<text transform="translate(677.90,249.6) scale(0.945,1)" class="t" text-anchor="middle">2.5</text>
<text transform="translate(357.7,191.6) rotate(-90)" class="yl" textLength="119.8" lengthAdjust="spacingAndGlyphs">Damage probability</text>
<text x="535.7" y="268.2" class="xl" style="font-size:14.4px" text-anchor="middle">PGA(g)</text>
<text x="537.7" y="295.0" class="cap" style="font-size:19.4px" text-anchor="middle">(b)</text>
<line x1="535.6" x2="555.9" y1="166.45" y2="166.45" stroke="#4A7A32" stroke-width="1.1"/>
<text x="558.8" y="169.35" class="lg">VPGA 0</text>
<line x1="606.2" x2="626.8" y1="166.45" y2="166.45" stroke="#F2A982" stroke-width="1.1"/>
<text x="629.2" y="169.35" class="lg">VPGA 0.1</text>
<line x1="535.6" x2="555.9" y1="178.47" y2="178.47" stroke="#B0B0B0" stroke-width="1.1"/>
<text x="558.8" y="181.37" class="lg">VPGA 0.2</text>
<line x1="606.2" x2="626.8" y1="178.47" y2="178.47" stroke="#FFC61E" stroke-width="1.1"/>
<text x="629.2" y="181.37" class="lg">VPGA 0.3</text>
<line x1="535.6" x2="555.9" y1="190.49" y2="190.49" stroke="#5B8DD9" stroke-width="1.1"/>
<text x="558.8" y="193.39" class="lg">VPGA 0.4</text>
<line x1="606.2" x2="626.8" y1="190.49" y2="190.49" stroke="#7DB84F" stroke-width="1.1"/>
<text x="629.2" y="193.39" class="lg">VPGA 0.5</text>
<line x1="535.6" x2="555.9" y1="202.51" y2="202.51" stroke="#2E6DA8" stroke-width="1.1"/>
<text x="558.8" y="205.41" class="lg">VPGA 0.6</text>
<line x1="606.2" x2="626.8" y1="202.51" y2="202.51" stroke="#6DAAE0" stroke-width="1.1"/>
<text x="629.2" y="205.41" class="lg">VPGA 0.7</text>
<line x1="535.6" x2="555.9" y1="214.53" y2="214.53" stroke="#B55A1E" stroke-width="1.1"/>
<text x="558.8" y="217.43" class="lg">VPGA 0.8</text>
<line x1="606.2" x2="626.8" y1="214.53" y2="214.53" stroke="#6E6E6E" stroke-width="1.1"/>
<text x="629.2" y="217.43" class="lg">VPGA 0.9</text>
<line x1="535.6" x2="555.9" y1="226.55" y2="226.55" stroke="#A37F1C" stroke-width="1.1"/>
<text x="558.8" y="229.45" class="lg">VPGA 1</text>
</svg>
</body></html>
